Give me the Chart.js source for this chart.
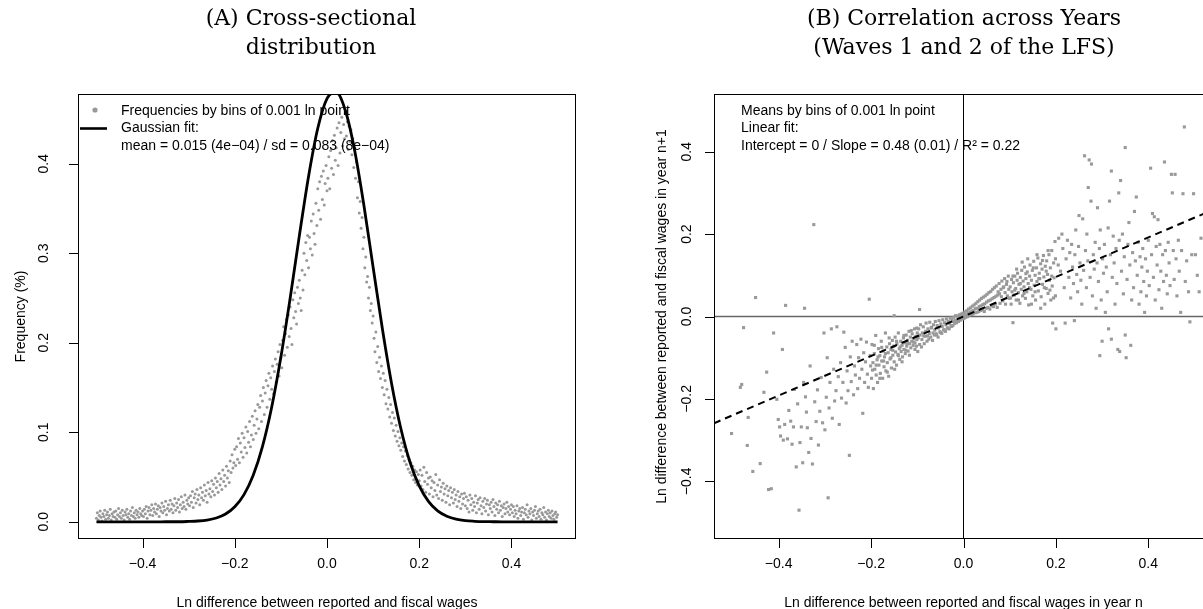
<!DOCTYPE html>
<html>
<head>
<meta charset="utf-8">
<script src="https://cdn.jsdelivr.net/npm/chart.js@4.4.1/dist/chart.umd.min.js"></script>
<style>
html,body{margin:0;padding:0;background:#fff;overflow:hidden;width:1203px;height:609px}
canvas{position:absolute;top:0}
#chartA{left:0}
#chartB{left:601px}
</style>
</head>
<body>
<canvas id="chartA" width="601" height="609"></canvas>
<canvas id="chartB" width="650" height="609"></canvas>
<script>
// ---- panel A : frequencies by bins (x grid -0.5 .. 0.5)
var binStartA = -0.5, binStepA = 0.002;
var freqA = [
0.004,0.010,0.002,0.007,0.012,0.005,0.001,0.009,0.006,0.013,
0.003,0.008,0.011,0.004,0.007,0.014,0.002,0.009,0.006,0.011,
0.005,0.012,0.003,0.008,0.015,0.006,0.010,0.004,0.013,0.007,
0.002,0.011,0.008,0.014,0.005,0.009,0.003,0.012,0.007,0.016,
0.006,0.010,0.004,0.013,0.008,0.011,0.005,0.015,0.009,0.007,
0.012,
0.006,0.014,0.009,0.017,0.004,0.012,0.016,0.008,0.013,0.019,
0.007,0.015,0.011,0.020,0.009,0.014,0.018,0.006,0.016,0.012,
0.021,0.010,0.017,0.013,0.023,0.008,0.015,0.019,0.012,0.024,
0.014,0.020,0.010,0.018,0.026,0.013,0.021,0.016,0.025,0.011,
0.019,0.028,0.015,0.022,0.017,0.030,0.014,0.024,0.020,0.027,
0.018,0.029,0.022,0.034,0.016,0.027,0.031,0.021,0.036,0.025,
0.030,0.019,0.038,0.027,0.033,0.024,0.041,0.029,0.035,0.022,
0.044,0.031,0.037,0.028,0.046,
0.034,0.042,0.030,0.049,0.038,0.045,0.033,0.054,0.041,0.048,
0.036,0.058,0.045,0.052,0.040,0.062,0.049,0.057,0.044,0.068,
0.055,0.075,0.060,0.066,0.081,
0.063,0.084,0.070,0.093,0.066,0.088,0.078,0.099,0.072,0.094,
0.083,0.106,0.077,0.101,0.089,0.112,0.084,0.097,0.118,0.092,
0.108,0.124,0.099,0.115,0.131,
0.104,0.128,0.141,0.112,0.135,0.150,0.120,0.144,0.158,0.128,
0.152,0.166,0.137,0.161,0.148,0.174,0.143,0.168,0.182,0.156,
0.176,0.190,0.163,0.198,0.184,
0.172,0.203,0.218,0.186,0.210,0.226,0.195,0.231,0.207,0.240,
0.216,0.198,0.248,0.228,0.256,0.235,0.221,0.262,0.244,0.270,
0.250,0.236,0.281,0.259,0.300,
0.276,0.312,0.292,0.320,0.284,0.318,0.305,0.336,0.298,0.344,
0.322,0.310,0.356,0.331,0.372,0.348,0.380,0.338,0.386,0.360,
0.392,0.354,0.378,0.398,0.370,
0.384,0.408,0.372,0.415,0.395,0.426,0.388,0.432,0.404,0.418,
0.440,0.398,0.446,0.412,0.435,0.452,0.420,0.444,0.428,0.458,
0.431,0.447,0.416,0.442,0.425,
0.438,0.410,0.428,0.396,0.418,0.384,0.402,0.362,0.380,0.345,
0.358,0.328,0.340,0.305,0.318,0.284,0.296,0.268,0.274,0.250,
0.262,0.236,0.244,0.222,0.230,
0.205,0.190,0.212,0.178,0.196,0.168,0.184,0.160,0.174,0.150,
0.166,0.142,0.158,0.132,0.148,0.126,0.139,0.117,0.131,0.110,
0.122,0.102,0.116,0.096,0.108,0.090,0.101,0.085,0.094,0.080,
0.088,0.073,0.084,0.068,0.079,0.064,0.074,0.059,0.070,0.055,
0.066,0.052,0.062,0.047,0.058,0.044,0.056,0.041,0.053,0.046,
0.058,0.040,0.052,0.036,0.061,0.045,0.033,0.055,0.042,0.049,
0.031,0.050,0.038,0.046,0.028,0.044,0.035,0.053,0.030,0.041,
0.026,0.047,0.034,0.039,0.024,0.043,0.031,0.037,0.022,0.040,
0.029,0.035,0.019,0.038,0.027,0.033,0.021,0.036,0.025,0.030,
0.017,0.034,0.023,0.028,0.015,0.031,0.020,0.026,0.032,0.018,
0.028,0.015,0.024,0.011,0.030,0.019,0.026,0.013,0.022,0.017,
0.029,0.010,0.021,0.025,0.014,0.027,0.018,0.009,0.023,0.016,
0.026,0.012,0.020,0.024,0.008,0.019,0.015,0.022,0.011,0.025,
0.017,0.007,0.021,0.014,0.019,0.010,0.023,0.013,0.018,0.006,
0.016,0.020,0.009,0.015,0.022,0.011,0.017,0.008,0.014,0.019,
0.010,0.017,0.006,0.013,0.009,0.018,0.004,0.012,0.015,0.007,
0.011,0.016,0.003,0.010,0.014,0.008,0.019,0.005,0.012,0.009,
0.015,0.002,0.011,0.007,0.013,0.017,0.004,0.009,0.012,0.006,
0.014,0.003,0.010,0.008,0.016,0.005,0.011,0.002,0.009,0.013,
0.006,0.010,0.004,0.012,0.007,0.003,0.009,0.011,0.005,0.008
];
// gaussian fit curve, x from -0.5 step 0.02
var gaussStartA = -0.5, gaussStepA = 0.02;
var gaussFitA = [0,0,0,0,0,0,0,0,
0.0001,0.0001,0.0004,0.0009,0.0020,0.0043,0.0087,0.0168,0.0304,0.0520,0.0840,0.1280,
0.1841,0.2496,0.3195,0.3859,0.4397,0.4728,0.4797,0.4593,0.4149,0.3537,0.2845,0.2159,
0.1546,0.1045,0.0666,0.0401,0.0228,0.0122,0.0062,0.0029,0.0013,0.0006,0.0002,0.0001,
0,0,0,0,0,0,0];

// ---- panel B : means by bins, [bin in year n, mean in year n+1]
var meansB = [
[-0.502,-0.284],[-0.483,-0.172],[-0.480,-0.165],[-0.476,-0.027],[-0.468,-0.313],[-0.466,-0.245],[-0.456,-0.376],[-0.450,0.046],[-0.440,-0.357],[-0.432,-0.184],
[-0.426,-0.135],[-0.422,-0.420],[-0.416,-0.418],[-0.411,-0.040],[-0.404,-0.201],[-0.401,-0.250],[-0.398,-0.268],[-0.396,-0.290],[-0.392,-0.080],[-0.390,-0.300],
[-0.387,-0.262],[-0.385,0.027],[-0.381,-0.297],[-0.378,-0.228],[-0.374,-0.254],[-0.371,-0.310],[-0.368,-0.268],[-0.366,-0.177],[-0.362,-0.365],[-0.359,-0.212],
[-0.356,-0.470],[-0.354,-0.306],[-0.351,-0.268],[-0.348,-0.355],[-0.346,-0.160],[-0.344,0.020],[-0.342,-0.195],[-0.340,-0.232],[-0.338,-0.270],[-0.335,-0.330],
[-0.332,-0.120],[-0.330,-0.296],[-0.327,-0.358],[-0.324,0.223],[-0.322,-0.207],[-0.319,-0.255],[-0.316,-0.178],[-0.314,-0.312],[-0.311,-0.230],[-0.308,-0.148],
[-0.305,-0.258],[-0.302,-0.040],[-0.300,-0.275],[-0.297,-0.196],[-0.295,-0.100],[-0.293,-0.440],[-0.291,-0.222],[-0.289,-0.160],[-0.286,-0.030],[-0.284,-0.247],
[-0.281,-0.128],[-0.279,-0.205],[-0.276,-0.180],[-0.274,-0.025],[-0.271,-0.146],[-0.269,-0.262],[-0.266,-0.112],[-0.264,-0.198],[-0.261,-0.160],[-0.259,-0.038],
[-0.256,-0.075],[-0.254,-0.210],[-0.252,-0.132],[-0.250,-0.180],[-0.247,-0.337],[-0.245,-0.098],[-0.243,-0.158],[-0.241,-0.060],[-0.238,-0.190],[-0.236,-0.120],
[-0.234,-0.142],[-0.231,-0.068],[-0.229,-0.175],[-0.227,-0.100],[-0.225,-0.150],[-0.222,-0.055],[-0.220,-0.128],[-0.218,-0.235],[-0.216,-0.088],[-0.214,-0.160],
[-0.212,-0.110],[-0.210,-0.062],[-0.208,-0.140],[-0.206,-0.172],[-0.204,0.042],[-0.202,-0.095],[-0.201,-0.120],
[-0.199,-0.150],[-0.198,-0.068],[-0.196,-0.112],[-0.195,-0.175],[-0.193,-0.090],[-0.192,-0.128],[-0.190,-0.046],[-0.189,-0.142],[-0.187,-0.105],[-0.186,-0.160],
[-0.184,-0.078],[-0.183,-0.118],[-0.181,-0.095],[-0.180,-0.138],[-0.178,-0.060],[-0.177,-0.108],[-0.175,-0.150],[-0.174,-0.084],[-0.172,-0.122],[-0.171,-0.098],
[-0.169,-0.040],[-0.168,-0.132],[-0.166,-0.074],[-0.165,-0.112],[-0.163,-0.088],[-0.162,-0.145],[-0.160,-0.066],[-0.159,-0.103],[-0.157,-0.080],[-0.156,-0.125],
[-0.154,-0.058],[-0.153,-0.094],[-0.151,-0.072],[-0.150,-0.110],[-0.150,0.002],[-0.148,-0.050],[-0.147,-0.086],[-0.145,-0.118],[-0.144,-0.066],[-0.142,-0.092],
[-0.141,-0.040],[-0.139,-0.078],[-0.138,-0.104],[-0.136,-0.060],[-0.135,-0.085],[-0.133,-0.070],[-0.132,-0.098],[-0.130,-0.052],[-0.129,-0.080],[-0.127,-0.064],
[-0.126,-0.090],[-0.124,-0.045],[-0.123,-0.072],[-0.121,-0.058],[-0.120,-0.084],[-0.118,-0.036],[-0.117,-0.066],[-0.115,-0.050],[-0.114,-0.076],[-0.112,-0.060],
[-0.111,-0.042],[-0.109,-0.070],[-0.108,-0.054],[-0.106,-0.030],[-0.105,-0.064],[-0.103,-0.048],[-0.102,-0.072],[-0.101,-0.056],[-0.100,-0.040],[-0.095,0.017],
[-0.197,-0.130],[-0.193,-0.070],[-0.189,-0.118],[-0.185,-0.098],[-0.181,-0.150],[-0.177,-0.075],[-0.173,-0.108],[-0.169,-0.090],[-0.165,-0.135],[-0.161,-0.052],
[-0.157,-0.100],[-0.153,-0.082],[-0.149,-0.128],[-0.145,-0.060],[-0.141,-0.095],[-0.137,-0.074],[-0.133,-0.110],[-0.129,-0.046],[-0.125,-0.082],[-0.121,-0.066],
[-0.117,-0.094],[-0.113,-0.034],[-0.109,-0.062],[-0.105,-0.080],[-0.101,-0.028],
[-0.099,-0.085],[-0.097,-0.030],[-0.095,-0.068],[-0.093,-0.020],[-0.091,-0.074],[-0.089,-0.040],[-0.087,-0.025],[-0.085,-0.066],[-0.083,-0.048],[-0.081,-0.016],
[-0.079,-0.060],[-0.077,-0.030],[-0.075,-0.055],[-0.073,-0.014],[-0.071,-0.050],[-0.069,-0.026],[-0.067,-0.058],[-0.065,-0.020],[-0.063,-0.045],[-0.061,-0.012],
[-0.059,-0.042],[-0.057,-0.022],[-0.055,-0.050],[-0.053,-0.010],[-0.051,-0.037],[-0.049,-0.018],[-0.047,-0.041],[-0.045,-0.008],[-0.043,-0.033],[-0.041,-0.015],
[-0.039,-0.036],[-0.037,-0.006],[-0.035,-0.028],[-0.033,-0.012],[-0.031,-0.030],[-0.029,-0.004],[-0.027,-0.023],[-0.025,-0.008],[-0.023,-0.022],[-0.021,-0.002],
[-0.019,-0.017],[-0.017,0.002],[-0.015,-0.015],[-0.013,0.001],[-0.011,-0.012],[-0.009,0.004],[-0.007,-0.009],[-0.005,0.006],[-0.003,-0.006],[-0.001,0.008],
[0.001,-0.005],[0.003,0.011],[0.005,-0.002],[0.007,0.014],[0.009,0.000],[0.011,0.018],[0.013,0.003],[0.015,0.021],[0.017,0.005],[0.019,0.025],
[0.021,0.006],[0.023,0.028],[0.025,0.009],[0.027,0.032],[0.029,0.010],[0.031,0.036],[0.033,0.012],[0.035,0.040],[0.037,0.015],[0.039,0.044],
[0.041,0.016],[0.043,0.047],[0.045,0.012],[0.047,0.050],[0.049,0.020],[0.051,0.054],[0.053,0.022],[0.055,0.058],[0.057,0.018],[0.059,0.061],
[0.061,0.026],[0.063,0.066],[0.065,0.024],[0.067,0.070],[0.069,0.030],[0.071,0.074],[0.073,0.022],[0.075,0.060],[0.077,0.080],[0.079,0.032],
[0.081,0.066],[0.083,0.086],[0.085,0.038],[0.087,0.072],[0.089,0.092],[0.091,0.030],[0.093,0.078],[0.095,0.050],[0.097,0.098],[0.099,0.044],
[-0.098,-0.052],[-0.094,-0.045],[-0.090,-0.056],[-0.086,-0.047],[-0.082,-0.036],[-0.078,-0.047],[-0.074,-0.041],[-0.070,-0.028],[-0.066,-0.040],[-0.062,-0.033],
[-0.058,-0.045],[-0.054,-0.028],[-0.050,-0.039],[-0.046,-0.024],[-0.042,-0.032],[-0.038,-0.020],[-0.034,-0.028],[-0.030,-0.017],[-0.026,-0.024],[-0.022,-0.012],
[-0.018,-0.010],[-0.014,-0.009],[-0.010,-0.004],[-0.006,-0.002],[-0.002,0.000],[0.002,0.003],[0.006,0.004],[0.010,0.008],[0.014,0.010],[0.018,0.013],
[0.022,0.015],[0.026,0.019],[0.030,0.020],[0.034,0.024],[0.038,0.026],[0.042,0.029],[0.046,0.031],[0.050,0.035],[0.054,0.038],[0.058,0.040],
[0.062,0.043],[0.066,0.046],[0.070,0.049],[0.074,0.052],[0.078,0.055],[0.082,0.048],[0.086,0.070],[0.090,0.058],[0.094,0.085],[0.098,0.066],
[0.101,0.072],[0.102,0.045],[0.104,0.090],[0.105,0.060],[0.107,-0.015],[0.108,0.082],[0.110,0.052],[0.111,0.098],[0.113,0.068],[0.114,0.040],
[0.116,0.088],[0.117,0.105],[0.119,0.058],[0.120,0.078],[0.122,0.032],[0.123,0.095],[0.125,0.066],[0.126,0.112],[0.128,0.050],[0.129,0.086],
[0.131,0.072],[0.132,0.120],[0.134,0.044],[0.135,0.092],[0.137,0.060],[0.138,0.108],[0.140,0.080],[0.141,0.028],[0.143,0.098],[0.144,0.125],
[0.146,0.066],[0.147,0.088],[0.149,0.112],[0.150,0.050],[0.152,0.134],[0.153,0.076],[0.155,0.100],[0.156,0.040],[0.158,0.118],[0.159,0.085],
[0.161,0.142],[0.162,0.062],[0.164,0.105],[0.165,0.092],[0.167,0.128],[0.168,0.048],[0.170,0.115],[0.171,0.078],[0.173,0.148],[0.174,0.096],
[0.176,0.030],[0.177,0.122],[0.179,0.068],[0.180,0.135],[0.182,0.102],[0.183,0.056],[0.185,0.150],[0.186,0.088],[0.188,0.118],[0.189,0.040],
[0.191,0.160],[0.192,0.074],[0.193,-0.016],[0.195,0.130],[0.196,0.094],[0.198,0.182],[0.199,0.050],[0.200,-0.030],
[0.103,0.030],[0.107,0.098],[0.111,0.064],[0.115,0.115],[0.119,0.040],[0.123,0.080],[0.127,0.132],[0.131,0.056],[0.135,0.104],[0.139,0.140],
[0.143,0.070],[0.147,0.030],[0.151,0.118],[0.155,0.060],[0.159,0.150],[0.163,0.092],[0.167,0.020],[0.171,0.136],[0.175,0.070],[0.179,0.110],
[0.183,0.160],[0.187,0.064],[0.191,0.098],[0.195,0.045],[0.199,0.140],
[0.206,0.190],[0.213,0.200],[0.205,0.125],[0.210,0.110],[0.215,0.165],[0.218,0.070],[0.220,-0.016],[0.222,0.140],[0.225,0.185],[0.228,0.095],
[0.230,0.155],[0.232,0.045],[0.234,0.175],[0.236,0.120],[0.238,0.080],[0.240,-0.010],[0.241,0.150],[0.243,0.210],[0.245,0.102],[0.247,0.060],
[0.249,0.170],[0.250,0.245],[0.252,0.130],[0.254,0.088],[0.256,0.030],[0.258,0.237],[0.260,0.112],[0.262,0.390],[0.264,0.160],[0.266,0.070],
[0.267,0.200],[0.269,0.135],[0.270,0.313],[0.272,0.380],[0.274,0.095],[0.276,0.280],[0.277,0.370],[0.279,0.050],[0.281,0.150],[0.283,0.115],
[0.285,0.180],[0.287,0.020],[0.289,0.130],[0.290,0.264],[0.292,0.085],[0.294,0.165],[0.295,-0.095],[0.296,0.210],[0.298,0.040],[0.300,-0.060],
[0.301,0.140],[0.303,0.105],[0.305,0.175],[0.307,0.010],[0.309,0.120],[0.311,0.060],[0.313,0.215],[0.314,-0.030],[0.316,0.280],[0.318,0.150],
[0.320,0.353],[0.320,-0.055],[0.322,0.095],[0.324,0.195],[0.326,0.130],[0.328,0.030],[0.330,0.165],[0.332,0.080],[0.334,-0.080],[0.336,0.300],
[0.337,0.185],[0.338,-0.085],[0.340,0.330],[0.342,0.110],[0.344,0.200],[0.346,0.055],[0.348,0.145],[0.350,0.410],[0.350,-0.045],[0.352,-0.100],
[0.354,0.090],[0.356,0.175],[0.358,0.228],[0.360,0.125],[0.362,-0.070],[0.364,0.040],[0.366,0.155],[0.368,0.070],[0.370,0.255],[0.372,0.135],
[0.374,0.290],[0.376,0.100],[0.378,0.180],[0.380,0.030],[0.382,0.145],[0.384,0.060],[0.386,0.120],[0.388,0.165],[0.390,0.085],[0.392,0.010],
[0.394,0.140],[0.396,0.050],[0.398,0.110],[0.400,0.185],[0.402,0.075],[0.405,0.360],[0.407,0.150],[0.409,0.250],[0.411,0.095],[0.413,0.242],
[0.415,0.040],[0.417,0.170],[0.419,0.125],[0.421,0.235],[0.423,0.065],[0.425,0.175],[0.427,0.110],[0.429,0.020],[0.431,0.150],[0.433,0.085],
[0.435,0.375],[0.437,0.160],[0.439,0.100],[0.441,0.055],[0.443,0.180],[0.445,0.130],[0.447,0.075],[0.450,0.345],[0.452,0.300],[0.454,0.160],
[0.456,0.090],[0.458,0.345],[0.460,0.140],[0.462,0.050],[0.465,0.185],[0.467,0.110],[0.470,0.010],[0.472,0.160],[0.475,0.298],[0.478,0.460],
[0.480,0.085],[0.483,0.135],[0.487,0.060],[0.490,-0.013],[0.494,0.150],[0.498,0.298],[0.502,0.150],[0.506,0.100],[0.510,0.060],[0.514,0.190]
];
// linear fit (intercept 0, slope 0.48), ends read at plot edges
var fitLineB = [[-0.54,-0.259],[0.54,0.259]];
var zeroVB = [[0,-0.54],[0,0.54]];
var zeroHB = [[-0.54,0],[0.54,0]];

// ticks / labels
var xTicks = [-0.4,-0.2,0,0.2,0.4];
var xTickLabels = ['\u22120.4','\u22120.2','0.0','0.2','0.4'];
var yTicksA = [0,0.1,0.2,0.3,0.4];
var yTickLabelsA = ['0.0','0.1','0.2','0.3','0.4'];
var yTicksB = [-0.4,-0.2,0,0.2,0.4];
var yTickLabelsB = ['\u22120.4','\u22120.2','0.0','0.2','0.4'];

var sansFont = '14px "Liberation Sans", Arial, sans-serif';
var serifFont = '22px "DejaVu Serif", serif';
var pointGray = '#999999';

// draws the R-like frame, axes, titles and legend text
var rFrame = {
  id: 'rFrame',
  afterDraw: function(chart, args, o){
    var ctx = chart.ctx, a = chart.chartArea;
    var xs = chart.scales.x, ys = chart.scales.y;
    ctx.save();
    ctx.strokeStyle = '#000'; ctx.lineWidth = 1;
    ctx.strokeRect(a.left + .5, a.top + .5, a.right - a.left - 1, a.bottom - a.top - 1);

    ctx.fillStyle = '#000';
    ctx.font = sansFont;
    // x axis
    ctx.beginPath();
    xTicks.forEach(function(v){
      var px = Math.round(xs.getPixelForValue(v)) + .5;
      ctx.moveTo(px, a.bottom); ctx.lineTo(px, a.bottom + 9);
    });
    ctx.stroke();
    ctx.textAlign = 'center'; ctx.textBaseline = 'middle';
    xTicks.forEach(function(v, i){
      ctx.fillText(xTickLabels[i], xs.getPixelForValue(v), a.bottom + 25);
    });
    ctx.fillText(o.xTitle, (a.left + a.right) / 2, a.bottom + 64);
    // y axis
    ctx.beginPath();
    o.yTicks.forEach(function(v){
      var py = Math.round(ys.getPixelForValue(v)) + .5;
      ctx.moveTo(a.left, py); ctx.lineTo(a.left - 9, py);
    });
    ctx.stroke();
    o.yTicks.forEach(function(v, i){
      ctx.save();
      ctx.translate(a.left - o.labelGap, ys.getPixelForValue(v));
      ctx.rotate(-Math.PI / 2);
      ctx.fillText(o.yLabels[i], 0, 0);
      ctx.restore();
    });
    ctx.save();
    ctx.translate(a.left - o.titleGap, (a.top + a.bottom) / 2);
    ctx.rotate(-Math.PI / 2);
    ctx.fillText(o.yTitle, 0, 0);
    ctx.restore();

    // legend text
    ctx.textAlign = 'left';
    o.legend.forEach(function(t, i){
      ctx.fillText(t, o.legendX, 111 + i * 17.5);
    });
    if (o.legendMarks) {
      ctx.fillStyle = pointGray;
      ctx.beginPath(); ctx.arc(95, 110, 2.6, 0, Math.PI * 2); ctx.fill();
      ctx.strokeStyle = '#000'; ctx.lineWidth = 2.6;
      ctx.beginPath(); ctx.moveTo(80, 128.5); ctx.lineTo(107, 128.5); ctx.stroke();
    }

    // main title
    ctx.fillStyle = '#000';
    ctx.textAlign = 'center';
    ctx.font = serifFont;
    o.title.forEach(function(t, i){
      ctx.fillText(t, o.titleX, 19 + i * 29);
    });
    ctx.restore();
  }
};

function baseOptions(ymin, ymax, pad, frame){
  return {
    responsive: false, animation: false, devicePixelRatio: 1,
    layout: { padding: pad },
    scales: {
      x: { type: 'linear', min: -0.54, max: 0.54, display: false },
      y: { type: 'linear', min: ymin, max: ymax, display: false }
    },
    plugins: { legend: { display: false }, tooltip: { enabled: false }, rFrame: frame }
  };
}

// panel A data
var pointsA = freqA.map(function(v, i){ return { x: binStartA + i * binStepA, y: v }; });
var curveA = gaussFitA.map(function(v, i){ return { x: gaussStartA + i * gaussStepA, y: v }; });

new Chart(document.getElementById('chartA'), {
  type: 'scatter',
  data: { datasets: [
    { data: curveA, showLine: true, borderColor: '#000', borderWidth: 2.8,
      pointRadius: 0, cubicInterpolationMode: 'monotone' },
    { data: pointsA, pointRadius: 1.5, pointBorderWidth: 0,
      backgroundColor: pointGray, pointBackgroundColor: pointGray }
  ]},
  options: baseOptions(-0.0192, 0.478, { left: 78, top: 94, right: 25, bottom: 70 }, {
    title: ['(A) Cross-sectional', 'distribution'], titleX: 311,
    xTitle: 'Ln difference between reported and fiscal wages',
    yTitle: 'Frequency (%)', yTicks: yTicksA, yLabels: yTickLabelsA,
    labelGap: 34, titleGap: 57,
    legendX: 121, legendMarks: true,
    legend: ['Frequencies by bins of 0.001 ln point', 'Gaussian fit:',
             'mean = 0.015 (4e\u221204) / sd = 0.083 (8e\u221204)']
  }),
  plugins: [rFrame]
});

// panel B
var toXY = function(p){ return { x: p[0], y: p[1] }; };
new Chart(document.getElementById('chartB'), {
  type: 'scatter',
  data: { datasets: [
    { data: fitLineB.map(toXY), showLine: true, borderColor: '#000', borderWidth: 2,
      borderDash: [7, 5], pointRadius: 0 },
    { data: meansB.map(toXY), pointStyle: 'rect', pointRadius: 2.2, pointBorderWidth: 0,
      backgroundColor: pointGray, pointBackgroundColor: pointGray },
    { data: zeroVB.map(toXY), showLine: true, borderColor: '#000', borderWidth: 1, pointRadius: 0 },
    { data: zeroHB.map(toXY), showLine: true, borderColor: '#666', borderWidth: 1.3, pointRadius: 0 }
  ]},
  options: baseOptions(-0.54, 0.54, { left: 113, top: 94, right: 38, bottom: 70 }, {
    title: ['(B) Correlation across Years', '(Waves 1 and 2 of the LFS)'], titleX: 363,
    xTitle: 'Ln difference between reported and fiscal wages in year n',
    yTitle: 'Ln difference between reported and fiscal wages in year n+1',
    yTicks: yTicksB, yLabels: yTickLabelsB,
    labelGap: 27, titleGap: 52,
    legendX: 140, legendMarks: false,
    legend: ['Means by bins of 0.001 ln point', 'Linear fit:',
             'Intercept = 0 / Slope = 0.48 (0.01) / R\u00b2 = 0.22']
  }),
  plugins: [rFrame]
});
</script>
</body>
</html>
